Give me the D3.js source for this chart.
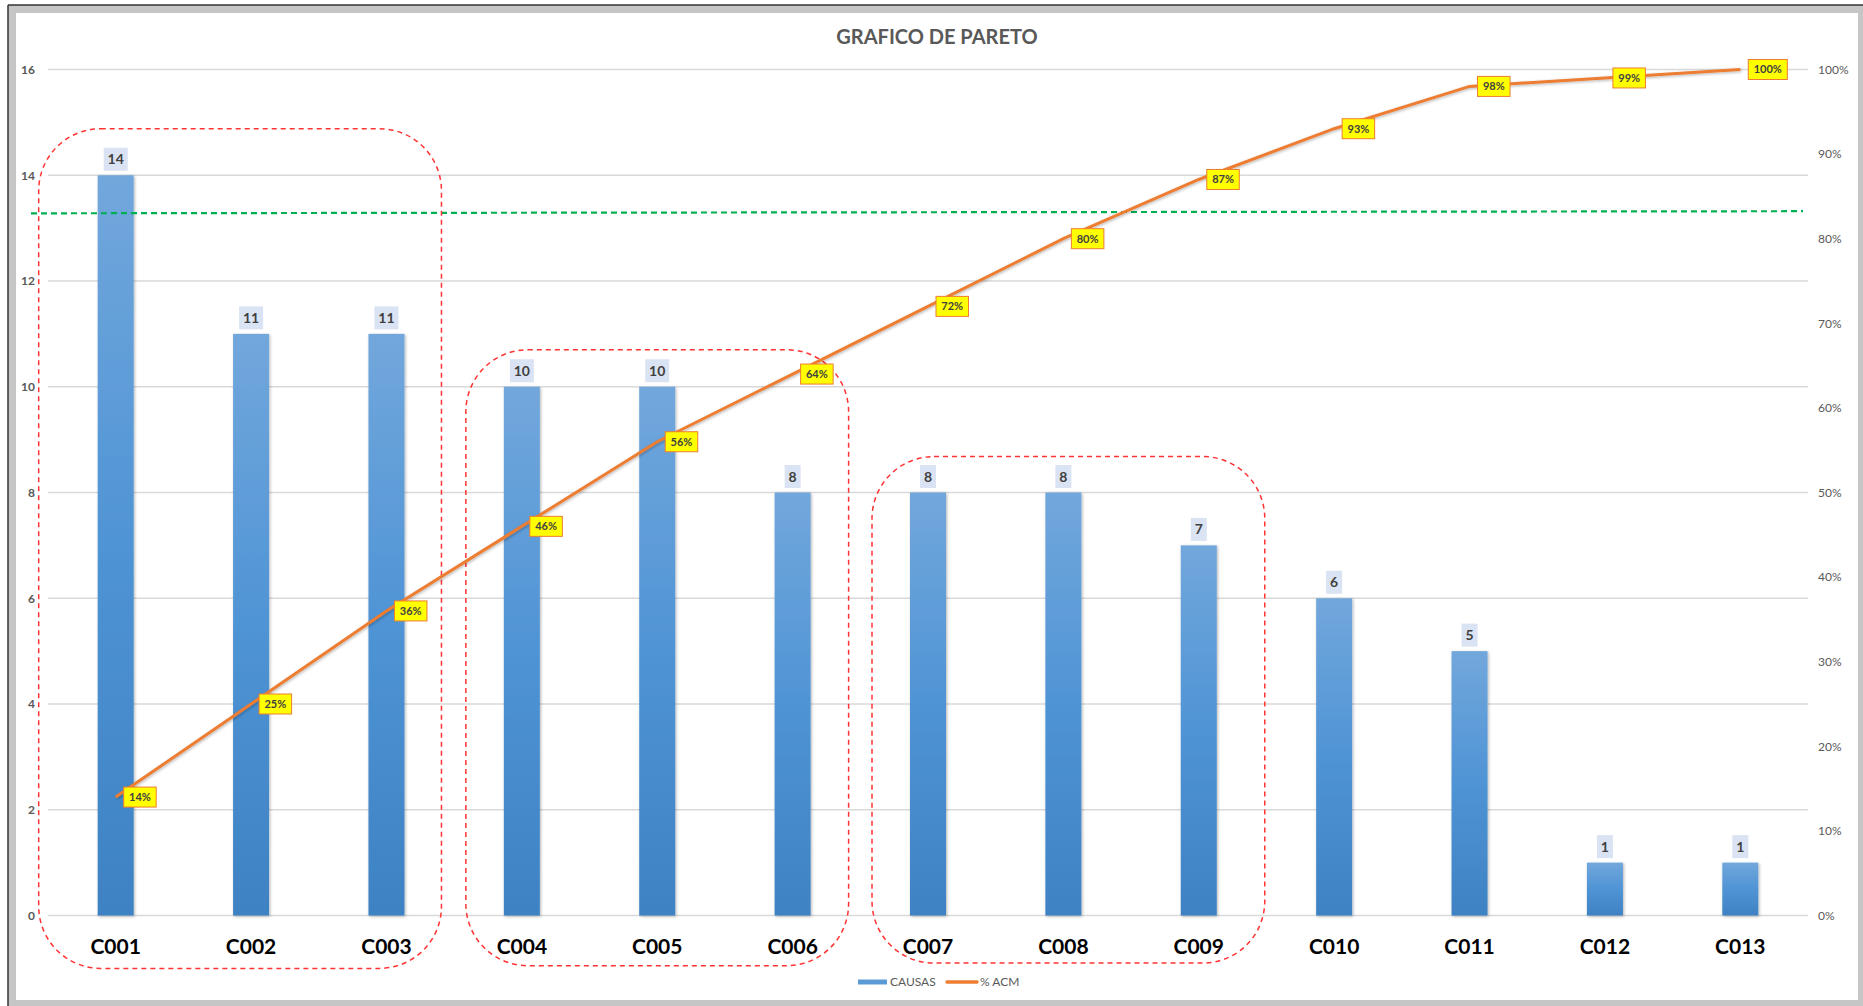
<!DOCTYPE html>
<html>
<head>
<meta charset="utf-8">
<script src="https://cdn.jsdelivr.net/npm/d3@7"></script>
<style>
  body { margin: 0; background: #fff; }
  svg { display: block; font-family: Lato, "Open Sans", sans-serif; }
</style>
</head>
<body>
<script>
(function () {
  'use strict';

  const width = 1863,
    height = 1006;

  // datos
  var categorias = ['C001', 'C002', 'C003', 'C004', 'C005', 'C006', 'C007',
    'C008', 'C009', 'C010', 'C011', 'C012', 'C013'];
  var causas = [14, 11, 11, 10, 10, 8, 8, 8, 7, 6, 5, 1, 1];
  var acumulado = [0.14, 0.25, 0.36, 0.46, 0.56, 0.64, 0.72, 0.80, 0.87, 0.93, 0.98, 0.99, 1.00];
  var ticksIzq = [0, 2, 4, 6, 8, 10, 12, 14, 16];
  var ticksDer = [0, 0.1, 0.2, 0.3, 0.4, 0.5, 0.6, 0.7, 0.8, 0.9, 1];
  var lineaCorte = [0.830, 0.8325]; // linea verde (eje derecho), izq -> der
  var zonas = [
    { desde: 'C001', hasta: 'C003', tope: 14.88, base: -1.0 },
    { desde: 'C004', hasta: 'C006', tope: 10.7, base: -0.95 },
    { desde: 'C007', hasta: 'C009', tope: 8.68, base: -0.9 }
  ];
  // holgura horizontal (px) de cada zona dibujada a mano: [izq, der]
  var holgura = [[77, 55], [56, 56], [56, 66]];

  var datos = categorias.map((c, i) => ({ cat: c, val: causas[i], pct: acumulado[i] }));

  var svg = d3.select('body')
    .append('svg')
    .attr('width', width)
    .attr('height', height);

  var defs = svg.append('defs');
  var grad = defs.append('linearGradient')
    .attr('id', 'gradBar')
    .attr('x1', 0).attr('y1', 0).attr('x2', 0).attr('y2', 1);
  grad.append('stop').attr('offset', '0%').attr('stop-color', '#72a7dc');
  grad.append('stop').attr('offset', '50%').attr('stop-color', '#4f94d5');
  grad.append('stop').attr('offset', '100%').attr('stop-color', '#3e82c3');

  var sombra = defs.append('filter').attr('id', 'sombra')
    .attr('x', '-30%').attr('y', '-30%').attr('width', '160%').attr('height', '160%');
  sombra.append('feDropShadow').attr('dx', 1).attr('dy', 1)
    .attr('stdDeviation', 1.5).attr('flood-color', '#000').attr('flood-opacity', 0.3);

  // marco
  svg.append('rect').attr('x', 8).attr('y', 5).attr('width', width - 8).attr('height', height - 5)
    .style('fill', '#c6c6c6');
  svg.append('line').attr('x1', 8).attr('y1', 5).attr('x2', width).attr('y2', 5)
    .style('stroke', '#333').style('stroke-width', 1.5);
  svg.append('line').attr('x1', 8).attr('y1', 5).attr('x2', 8).attr('y2', height)
    .style('stroke', '#333').style('stroke-width', 1.5);
  svg.append('rect').attr('x', 16).attr('y', 13).attr('width', 1842).attr('height', 987)
    .style('fill', '#fff');

  var x = d3.scaleBand().domain(categorias).range([48, 1808]);
  var yL = d3.scaleLinear().domain([0, 16]).range([915.5, 69.5]);
  var yR = d3.scaleLinear().domain([0, 1]).range([915.5, 69.5]);
  var barW = 36;
  var cx = d => x(d) + x.bandwidth() / 2;

  // titulo
  svg.append('text')
    .attr('x', 937).attr('y', 44)
    .attr('text-anchor', 'middle')
    .style('font-size', '20px').style('font-weight', 'bold').style('fill', '#595959')
    .text('GRAFICO DE PARETO');

  // rejilla
  svg.append('g').selectAll('line')
    .data(ticksIzq)
    .enter()
    .append('line')
    .attr('x1', x.range()[0]).attr('x2', x.range()[1])
    .attr('y1', d => yL(d)).attr('y2', d => yL(d))
    .style('stroke', '#d9d9d9').style('stroke-width', 1.3);

  // ejes
  var ejeIzq = svg.append('g')
    .attr('transform', 'translate(38,0)')
    .call(d3.axisLeft(yL).tickValues(ticksIzq).tickSize(0).tickPadding(3));
  ejeIzq.select('.domain').remove();
  ejeIzq.selectAll('text').style('font-family', 'Lato, sans-serif')
    .style('font-size', '12px').style('font-weight', 'bold').style('fill', '#595959');

  var ejeDer = svg.append('g')
    .attr('transform', 'translate(1815,0)')
    .call(d3.axisRight(yR).tickValues(ticksDer).tickFormat(d3.format('.0%')).tickSize(0).tickPadding(3));
  ejeDer.select('.domain').remove();
  ejeDer.selectAll('text').style('font-family', 'Lato, sans-serif')
    .style('font-size', '12px').style('fill', '#595959');

  var ejeX = svg.append('g')
    .attr('transform', 'translate(0,' + yL(0) + ')')
    .call(d3.axisBottom(x).tickSize(0).tickPadding(24));
  ejeX.select('.domain').remove();
  ejeX.selectAll('text').style('font-family', 'Lato, sans-serif')
    .style('font-size', '21px').style('font-weight', 'bold').style('fill', '#000');

  // barras
  svg.append('g').selectAll('rect')
    .data(datos)
    .enter()
    .append('rect')
    .attr('x', d => cx(d.cat) - barW / 2)
    .attr('y', d => yL(d.val))
    .attr('width', barW)
    .attr('height', d => yL(0) - yL(d.val))
    .style('fill', 'url(#gradBar)')
    .attr('filter', 'url(#sombra)');

  // etiquetas de barras
  var etq = svg.append('g').selectAll('g')
    .data(datos)
    .enter()
    .append('g')
    .attr('transform', d => 'translate(' + cx(d.cat) + ',' + (yL(d.val) - 16) + ')');
  etq.append('rect')
    .attr('x', d => -(String(d.val).length * 8 + 8) / 2)
    .attr('y', -11.5)
    .attr('width', d => String(d.val).length * 8 + 8)
    .attr('height', 23)
    .style('fill', '#dae3f3');
  etq.append('text')
    .attr('text-anchor', 'middle')
    .attr('dy', '0.36em')
    .style('font-size', '14px').style('font-weight', 'bold').style('fill', '#404040')
    .text(d => d.val);

  // linea verde
  svg.append('line')
    .attr('x1', x.range()[0] - 17).attr('y1', yR(lineaCorte[0]))
    .attr('x2', x.range()[1] - 5).attr('y2', yR(lineaCorte[1]))
    .style('stroke', '#00b050').style('stroke-width', 2.2).style('stroke-dasharray', '6,4');

  // zonas rojas
  svg.append('g').selectAll('rect')
    .data(zonas)
    .enter()
    .append('rect')
    .attr('x', (d, i) => cx(d.desde) - holgura[i][0])
    .attr('y', d => yL(d.tope))
    .attr('width', (d, i) => cx(d.hasta) - cx(d.desde) + holgura[i][0] + holgura[i][1])
    .attr('height', d => yL(d.base) - yL(d.tope))
    .attr('rx', 62).attr('ry', 62)
    .style('fill', 'none').style('stroke', '#ff3333').style('stroke-width', 1.5)
    .style('stroke-dasharray', '5,4');

  // linea acumulada
  var linea = d3.line().x(d => cx(d.cat)).y(d => yR(d.pct));
  svg.append('path')
    .datum(datos)
    .attr('d', linea)
    .style('fill', 'none').style('stroke', '#ed7d31').style('stroke-width', 3)
    .attr('filter', 'url(#sombra)');

  // etiquetas porcentaje
  var fmt = d3.format('.0%');
  var etqP = svg.append('g').selectAll('g')
    .data(datos)
    .enter()
    .append('g')
    .attr('transform', d => 'translate(' + (cx(d.cat) + 8) + ',' + yR(d.pct) + ')');
  etqP.append('rect')
    .attr('x', 0).attr('y', -10)
    .attr('width', d => fmt(d.pct).length * 6.5 + 13)
    .attr('height', 20)
    .style('fill', '#ffff00').style('stroke', '#ed7d31').style('stroke-width', 1);
  etqP.append('text')
    .attr('x', d => (fmt(d.pct).length * 6.5 + 13) / 2)
    .attr('dy', '0.36em')
    .attr('text-anchor', 'middle')
    .style('font-size', '11px').style('font-weight', 'bold').style('fill', '#404040')
    .text(d => fmt(d.pct));

  // leyenda
  var ley = svg.append('g').attr('transform', 'translate(858,982)');
  ley.append('line').attr('x1', 0).attr('x2', 29).attr('y1', 0).attr('y2', 0)
    .style('stroke', '#5b9bd5').style('stroke-width', 5);
  ley.append('text').attr('x', 32).attr('dy', '0.36em')
    .style('font-size', '12px').style('fill', '#595959').text('CAUSAS');
  ley.append('line').attr('x1', 89).attr('x2', 119).attr('y1', 0).attr('y2', 0)
    .style('stroke', '#ed7d31').style('stroke-width', 3.5).style('stroke-linecap', 'round');
  ley.append('text').attr('x', 122).attr('dy', '0.36em')
    .style('font-size', '12px').style('fill', '#595959').text('% ACM');

})();
</script>
</body>
</html>
